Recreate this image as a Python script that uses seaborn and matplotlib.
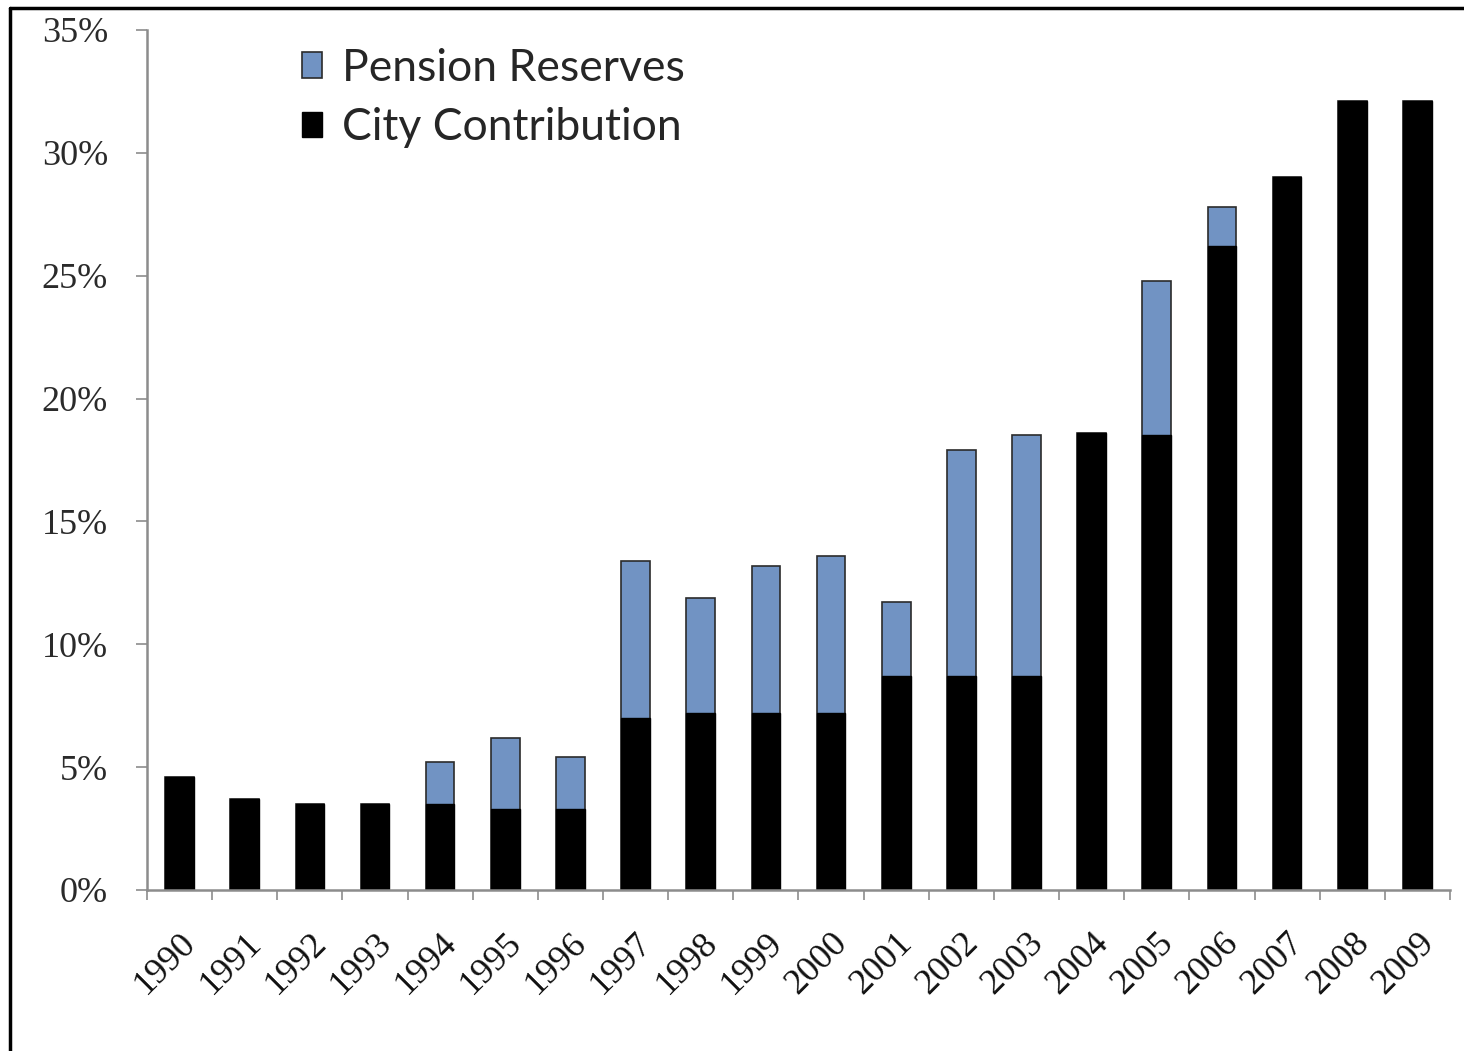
import pandas as pd
import matplotlib.pyplot as plt
import seaborn as sns
from matplotlib.lines import Line2D
from matplotlib.patches import Patch
from matplotlib.ticker import FixedLocator

# Values (percent of payroll)
years = [str(y) for y in range(1990, 2010)]
city_contribution = [4.6, 3.7, 3.5, 3.5, 3.5, 3.3, 3.3, 7.0, 7.2, 7.2,
                     7.2, 8.7, 8.7, 8.7, 18.6, 18.5, 26.2, 29.0, 32.1, 32.1]
pension_reserves = [0.0, 0.0, 0.0, 0.0, 1.7, 2.9, 2.1, 6.4, 4.7, 6.0,
                    6.4, 3.0, 9.2, 9.8, 0.0, 6.3, 1.6, 0.0, 0.0, 0.0]

BLUE = '#7193c3'
AXIS_GREY = '#8c8c8c'

df = pd.DataFrame({'year': years,
                   'city': city_contribution,
                   'reserves': pension_reserves})
df['total'] = df['city'] + df['reserves']

sns.set_style('white')
plt.rcParams['font.family'] = ['Liberation Serif', 'DejaVu Serif']

fig = plt.figure(figsize=(14.64, 10.51), dpi=100)
ax = fig.add_axes([0.1004, 0.1532, 0.89, 0.8183])

# Stacked bars: draw the total in blue, then the city part in black over it
sns.barplot(data=df, x='year', y='total', color=BLUE, width=0.44,
            edgecolor='#2b2b2b', linewidth=1.2, saturation=1, ax=ax)
sns.barplot(data=df, x='year', y='city', color='black', width=0.44,
            edgecolor='black', linewidth=1.0, saturation=1, ax=ax)

ax.set_xlim(-0.5, len(years) - 0.5)
ax.set_ylim(0, 35)
ax.set_yticks(range(0, 36, 5))
ax.set_yticklabels([f'{v}%' for v in range(0, 36, 5)], fontsize=26, color='#2a2a2a')
ax.set_xticks(range(len(years)))
ax.set_xticklabels(years, fontsize=26, rotation=45, ha='right',
                   rotation_mode='anchor', color='#111111')
ax.xaxis.set_minor_locator(FixedLocator([i - 0.5 for i in range(len(years) + 1)]))
ax.tick_params(axis='x', which='both', bottom=True)
ax.tick_params(axis='x', which='major', length=0, pad=26)
ax.tick_params(axis='x', which='minor', length=7, width=1.2, color=AXIS_GREY)
ax.tick_params(axis='y', length=8, width=1.2, color=AXIS_GREY, pad=20, left=True)
ax.set_xlabel('')
ax.set_ylabel('')

for side in ['top', 'right']:
    ax.spines[side].set_visible(False)
for side in ['left', 'bottom']:
    ax.spines[side].set_color(AXIS_GREY)
    ax.spines[side].set_linewidth(1.8)

handles = [Patch(facecolor=BLUE, edgecolor='#2b2b2b', linewidth=1.2),
           Patch(facecolor='black', edgecolor='black')]
ax.legend(handles, ['Pension Reserves', 'City Contribution'],
          loc='upper left', bbox_to_anchor=(0.105, 1.0), borderaxespad=0,
          frameon=False, prop={'family': 'Lato', 'size': 32},
          handlelength=0.45, handleheight=0.5, handletextpad=0.45,
          labelspacing=0.41)

# outer frame of the original exhibit (left and top edges only visible)
fig.add_artist(Line2D([0.0068, 0.0068], [0.0, 0.9925], color='black',
                      linewidth=2.5, transform=fig.transFigure))
fig.add_artist(Line2D([0.0068, 1.0], [0.9925, 0.9925], color='black',
                      linewidth=2.5, transform=fig.transFigure))

fig.savefig('out.png', dpi=100)
